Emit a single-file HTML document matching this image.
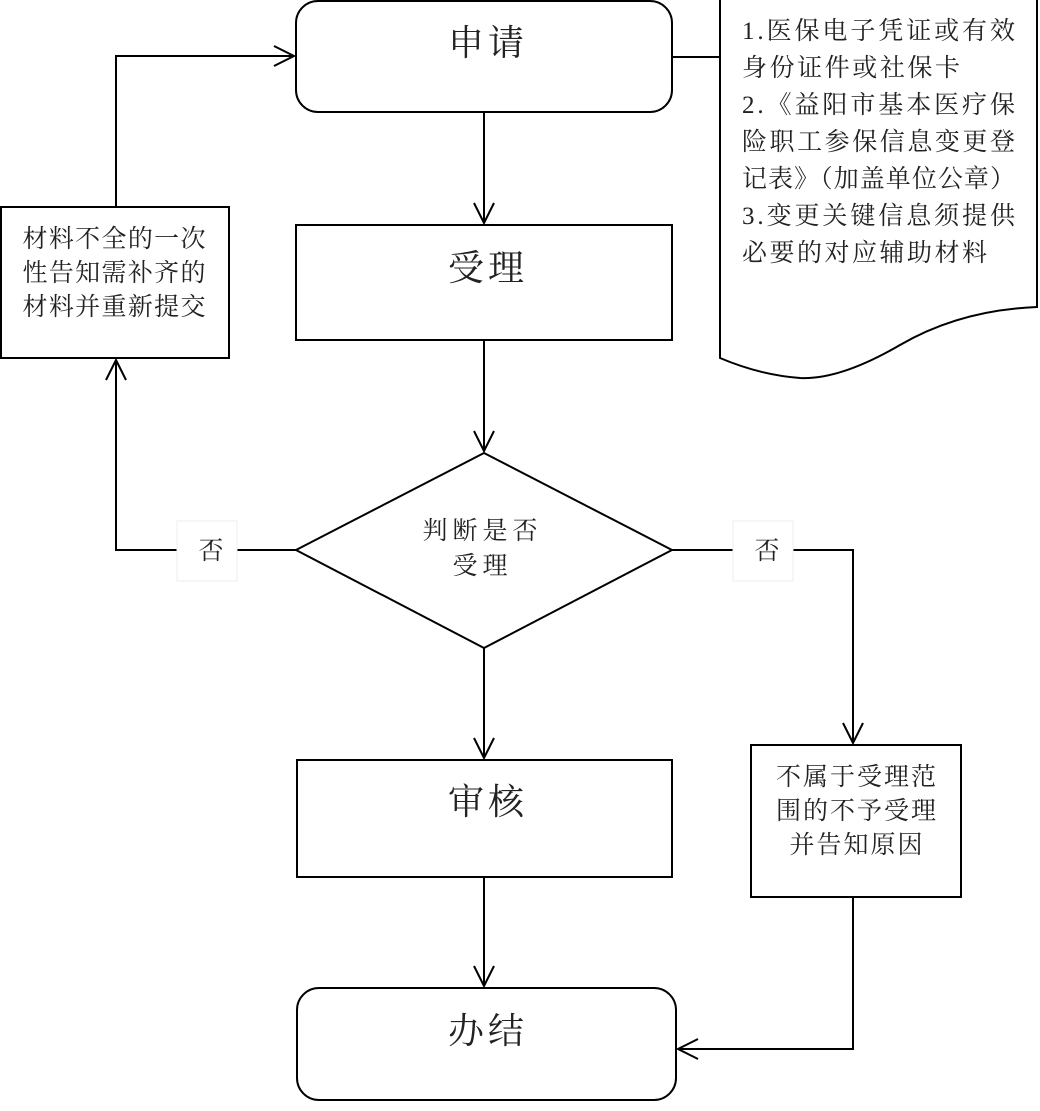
<!DOCTYPE html>
<html><head><meta charset="utf-8"><style>
body{margin:0;background:#fff;}
svg text{font-family:"Liberation Serif","Noto Serif CJK SC",serif;fill:#222;}
</style></head><body>
<svg width="1040" height="1106" viewBox="0 0 1040 1106" xmlns="http://www.w3.org/2000/svg">
<g fill="none" stroke="#000" stroke-width="2">
<rect x="296" y="1" width="376" height="111" rx="22"/>
<rect x="296" y="225" width="376" height="115"/>
<polygon points="296,550 484,453 672,550 484,648"/>
<rect x="1" y="207" width="228" height="151"/>
<rect x="751" y="745" width="210" height="152"/>
<rect x="297" y="760" width="375" height="117"/>
<rect x="297" y="988" width="379" height="112" rx="22"/>
<path d="M720,0 L720,358 Q760,375 800,378 Q840,380 900,345 Q960,310 1037,307 L1037,0"/>
<line x1="672" y1="57" x2="720" y2="57"/>
<line x1="484" y1="112" x2="484" y2="223"/><polyline points="474,203 484,223 494,203"/>
<line x1="484" y1="340" x2="484" y2="451"/><polyline points="474,431 484,451 494,431"/>
<line x1="484" y1="648" x2="484" y2="758"/><polyline points="474,738 484,758 494,738"/>
<line x1="484" y1="877" x2="484" y2="986"/><polyline points="474,966 484,986 494,966"/>
<polyline points="296,550 116,550 116,360"/><polyline points="106,380 116,360 126,380"/>
<polyline points="116,207 116,56 294,56"/><polyline points="274,46 294,56 274,66"/>
<polyline points="672,550 853,550 853,743"/><polyline points="843,723 853,743 863,723"/>
<polyline points="853,897 853,1049 678,1049"/><polyline points="698,1039 678,1049 698,1059"/>
</g>
<rect x="177" y="521" width="60" height="60" fill="#fff" stroke="#eee"/>
<rect x="733" y="521" width="60" height="60" fill="#fff" stroke="#eee"/>
<text x="211" y="559" font-size="25" text-anchor="middle">否</text>
<text x="767" y="559" font-size="25" text-anchor="middle">否</text>
<g font-size="36" text-anchor="middle">
<text x="486" y="55" textLength="76" lengthAdjust="spacing">申请</text>
<text x="486" y="280" textLength="76" lengthAdjust="spacing">受理</text>
<text x="486" y="814" textLength="76" lengthAdjust="spacing">审核</text>
<text x="486" y="1043" textLength="76" lengthAdjust="spacing">办结</text>
</g>
<g font-size="25" text-anchor="middle">
<text x="480" y="539" textLength="115" lengthAdjust="spacing">判断是否</text>
<text x="480" y="574" textLength="55" lengthAdjust="spacing">受理</text>
<text x="114" y="247" textLength="183" lengthAdjust="spacing">材料不全的一次</text>
<text x="114" y="281" textLength="183" lengthAdjust="spacing">性告知需补齐的</text>
<text x="114" y="315" textLength="183" lengthAdjust="spacing">材料并重新提交</text>
<text x="856" y="785" textLength="160" lengthAdjust="spacing">不属于受理范</text>
<text x="856" y="819" textLength="160" lengthAdjust="spacing">围的不予受理</text>
<text x="856" y="853" textLength="133" lengthAdjust="spacing">并告知原因</text>
</g>
<g font-size="25">
<text x="742" y="39" textLength="273" lengthAdjust="spacing">1.医保电子凭证或有效</text>
<text x="742" y="76" textLength="218" lengthAdjust="spacing">身份证件或社保卡</text>
<text x="742" y="113" textLength="273" lengthAdjust="spacing">2.《益阳市基本医疗保</text>
<text x="742" y="150" textLength="273" lengthAdjust="spacing">险职工参保信息变更登</text>
<text x="742" y="187" textLength="273" lengthAdjust="spacing">记表》（加盖单位公章）</text>
<text x="742" y="224" textLength="273" lengthAdjust="spacing">3.变更关键信息须提供</text>
<text x="742" y="261" textLength="245" lengthAdjust="spacing">必要的对应辅助材料</text>
</g>
</svg>
</body></html>
